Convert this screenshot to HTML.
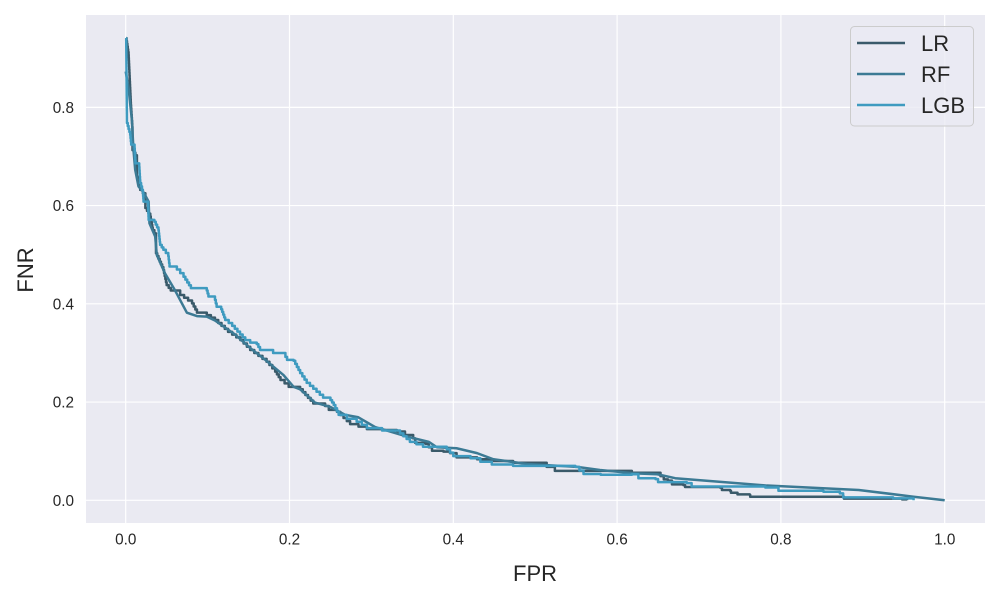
<!DOCTYPE html>
<html>
<head>
<meta charset="utf-8">
<style>
html,body{margin:0;padding:0;background:#fff;width:1000px;height:600px;overflow:hidden}
svg{display:block;font-family:"Liberation Sans",Arial,sans-serif}
</style>
</head>
<body>
<svg id="chart" xmlns="http://www.w3.org/2000/svg" width="1000" height="600" viewBox="0 0 1000 600">
<rect x="86" y="15" width="899" height="508" fill="#eaeaf2"/>
<g id="grid"></g>
<g id="series"></g>
<g id="ticks"></g>
<text x="535" y="581" font-size="22" fill="#262626" text-anchor="middle">FPR</text>
<text transform="translate(33,270) rotate(-90)" font-size="22" fill="#262626" text-anchor="middle">FNR</text>
<g>
<rect x="850.5" y="26.5" width="123" height="99.5" rx="4" fill="#eaeaf2" fill-opacity="0.8" stroke="#cccccc" stroke-width="1"/>
<g>
<line x1="857" x2="905" y1="43" y2="43" stroke="#3a5a6a" stroke-width="2.6"/>
<text x="921" y="51" font-size="22" fill="#262626">LR</text>
</g>
<g>
<line x1="857" x2="905" y1="74" y2="74" stroke="#3c7a94" stroke-width="2.6"/>
<text x="921" y="82" font-size="22" fill="#262626">RF</text>
</g>
<g>
<line x1="857" x2="905" y1="105" y2="105" stroke="#3f9bc0" stroke-width="2.6"/>
<text x="921" y="113" font-size="22" fill="#262626">LGB</text>
</g>
</g>
</svg>
<script>
var xTicks = ["0.0","0.2","0.4","0.6","0.8","1.0"];
var yTicks = ["0.0","0.2","0.4","0.6","0.8"];

var lrFpr = [.0006,.0035,.0063,.0083,.0083,.0137,.0137,.0177,.024,.024,.03,.033,.037,.037,.046,.05,.055,.0665,.081,.087,.099,.109,.125,.14,.152,.172,.1825,.189,.199,.213,.229,.2435,.248,.258,.274,.2945,.313,.331,.351,.3535,.366,.374,.388,.396,.404,.429,.449,.473,.514,.524,.579,.616,.618,.649,.657,.662,.667,.681,.683,.726,.728,.738,.739,.747,.762,.7625,.8745,.877,.948,.954];
var lrFnr = [.941,.907,.805,.754,.713,.697,.659,.632,.618,.595,.578,.55,.537,.503,.469,.438,.427,.418,.401,.382,.377,.367,.343,.326,.306,.282,.262,.245,.231,.226,.197,.192,.184,.18,.155,.145,.143,.14,.126,.117,.115,.101,.099,.096,.0875,.0835,.08,.0765,.068,.06,.06,.06,.056,.056,.0425,.04,.0325,.031,.027,.0257,.021,.0195,.0155,.012,.011,.0073,.0073,.0033,.002,0];

var rfFpr = [0,.0035,.0075,.0095,.0116,.0156,.0218,.028,.029,.036,.038,.048,.06,.0686,.0747,.087,.099,.109,.134,.152,.1703,.1927,.205,.213,.231,.25,.268,.284,.3046,.327,.343,.37,.38,.404,.429,.449,.49,.551,.579,.62,.649,.671,.783,.895,.962,1];
var rfFnr = [.873,.839,.775,.713,.673,.639,.627,.608,.564,.537,.4995,.462,.428,.401,.382,.375,.374,.366,.337,.31,.286,.255,.231,.226,.199,.19,.174,.169,.149,.138,.13,.119,.108,.106,.096,.0835,.074,.068,.0617,.055,.053,.045,.03,.021,.0073,0];

var lgbFpr = [.0006,.0015,.0055,.0067,.0108,.012,.0165,.0177,.021,.0218,.027,.028,.035,.04,.042,.046,.052,.0535,.0625,.0706,.0796,.099,.101,.109,.111,.1166,.1215,.13,.146,.152,.16,.164,.18,.195,.197,.205,.213,.221,.233,.241,.25,.254,.26,.27,.282,.2945,.313,.331,.347,.363,.392,.4,.421,.433,.447,.473,.549,.559,.58,.618,.626,.647,.65,.685,.691,.781,.797,.852,.872,.876,.937,.962];
var lgbFnr = [.941,.768,.744,.724,.717,.686,.679,.646,.625,.608,.608,.571,.567,.55,.52,.51,.497,.476,.47,.455,.432,.427,.415,.408,.394,.389,.367,.355,.326,.321,.318,.306,.3,.292,.286,.284,.259,.239,.221,.209,.204,.194,.174,.166,.16,.147,.142,.142,.119,.109,.104,.09,.0855,.0786,.073,.07,.068,.0535,.052,.053,.045,.043,.037,.035,.028,.026,.0195,.0175,.014,.006,.004,0];

function xScale(v){ return 125.7 + v * 819; }
function yScale(v){ return 500.3 - v * 491.2; }

var NS = "http://www.w3.org/2000/svg";
var grid = document.getElementById("grid");
var ticks = document.getElementById("ticks");
var seriesGroup = document.getElementById("series");

xTicks.forEach(function(t){
  var px = xScale(parseFloat(t));
  var ln = document.createElementNS(NS,"line");
  
  
  ln.setAttribute("x1",px); ln.setAttribute("x2",px);
  ln.setAttribute("y1",15); ln.setAttribute("y2",523);
  ln.setAttribute("stroke","#ffffff"); ln.setAttribute("stroke-width",1.2);
  grid.appendChild(ln);
  var tx = document.createElementNS(NS,"text");
  
  
  tx.setAttribute("x",px); tx.setAttribute("y",544.5);
  tx.setAttribute("font-size",15.3); tx.setAttribute("fill","#262626");
  tx.setAttribute("text-anchor","middle");
  tx.textContent = t;
  ticks.appendChild(tx);
});

yTicks.forEach(function(t){
  var py = yScale(parseFloat(t));
  var ln = document.createElementNS(NS,"line");
  
  
  ln.setAttribute("x1",86); ln.setAttribute("x2",985);
  ln.setAttribute("y1",py); ln.setAttribute("y2",py);
  ln.setAttribute("stroke","#ffffff"); ln.setAttribute("stroke-width",1.2);
  grid.appendChild(ln);
  var tx = document.createElementNS(NS,"text");
  
  
  tx.setAttribute("x",74); tx.setAttribute("y",py+5.5);
  tx.setAttribute("font-size",15.3); tx.setAttribute("fill","#262626");
  tx.setAttribute("text-anchor","end");
  tx.textContent = t;
  ticks.appendChild(tx);
});

function drawLine(xs, ys, color, width, stepped){
  var d = "M" + xScale(xs[0]).toFixed(2) + " " + yScale(ys[0]).toFixed(2);
  for (var i = 1; i < xs.length; i++) {
    var x0 = xScale(xs[i-1]), y0 = yScale(ys[i-1]);
    var x1 = xScale(xs[i]), y1 = yScale(ys[i]);
    if (stepped) {
      var n = Math.max(1, Math.round(Math.abs(y1 - y0) / 3));
      for (var k = 1; k <= n; k++) {
        d += "L" + (x0 + (x1 - x0) * k / n).toFixed(2) + " " + (y0 + (y1 - y0) * (k - 1) / n).toFixed(2);
        d += "L" + (x0 + (x1 - x0) * k / n).toFixed(2) + " " + (y0 + (y1 - y0) * k / n).toFixed(2);
      }
    } else {
      d += "L" + x1.toFixed(2) + " " + y1.toFixed(2);
    }
  }
  var p = document.createElementNS(NS,"path");
  p.setAttribute("d", d);
  p.setAttribute("fill","none");
  p.setAttribute("stroke",color);
  p.setAttribute("stroke-width",width);
  p.setAttribute("stroke-linejoin","round");
  return p;
}

var lrPath = drawLine(lrFpr, lrFnr, "#3a5a6a", 2.5, true);


seriesGroup.appendChild(lrPath);

var rfPath = drawLine(rfFpr, rfFnr, "#3c7a94", 2.5, false);


seriesGroup.appendChild(rfPath);

var lgbPath = drawLine(lgbFpr, lgbFnr, "#3f9bc0", 2.5, true);


seriesGroup.appendChild(lgbPath);
</script>
</body>
</html>
